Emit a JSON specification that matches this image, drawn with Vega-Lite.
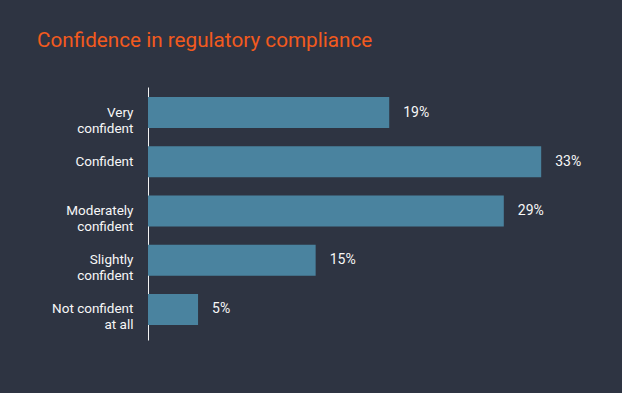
{
  "$schema": "https://vega.github.io/schema/vega-lite/v6.json",
  "width": 474,
  "height": 253,
  "autosize": {"type": "none"},
  "padding": {"left": 148, "top": 87, "right": 0, "bottom": 53},
  "background": "#2e3442",
  "title": {
    "text": "Confidence in regulatory compliance",
    "anchor": "start",
    "frame": "group",
    "dx": -111,
    "dy": 21,
    "offset": 40,
    "baseline": "alphabetic",
    "font": "Roboto",
    "fontSize": 20.7,
    "fontWeight": "normal",
    "color": "#f25a1e"
  },
  "data": {
    "values": [
      {"category": "Very\nconfident", "value": 20.0, "label": "19%"},
      {"category": "Confident", "value": 32.6, "label": "33%"},
      {"category": "Moderately\nconfident", "value": 29.5, "label": "29%"},
      {"category": "Slightly\nconfident", "value": 13.9, "label": "15%"},
      {"category": "Not confident\nat all", "value": 4.15, "label": "5%"}
    ]
  },
  "encoding": {
    "y": {
      "field": "category",
      "type": "nominal",
      "sort": null,
      "scale": {"paddingInner": 0.37, "paddingOuter": 0.256, "align": 0.4},
      "axis": {
        "title": null,
        "ticks": false,
        "tickSize": 0,
        "labelPadding": 15,
        "labelExpr": "split(datum.label, '\\n')",
        "labelFont": "Roboto",
        "labelFontSize": 13.5,
        "labelFontWeight": "normal",
        "labelLineHeight": 16,
        "labelColor": "#f7f7f7",
        "domainColor": "#f2f2f2",
        "domainWidth": 1,
        "labelLimit": 200
      }
    },
    "x": {
      "field": "value",
      "type": "quantitative",
      "scale": {"domain": [0, 39.3], "nice": false},
      "axis": null
    }
  },
  "layer": [
    {"mark": {"type": "bar", "color": "#4a839f"}},
    {
      "mark": {"type": "text", "align": "left", "baseline": "middle", "dx": 14, "font": "Roboto", "fontSize": 14, "fontWeight": "normal", "color": "#f7f7f7"},
      "encoding": {"text": {"field": "label"}}
    }
  ],
  "config": {
    "view": {"stroke": null},
    "axis": {"grid": false}
  }
}
